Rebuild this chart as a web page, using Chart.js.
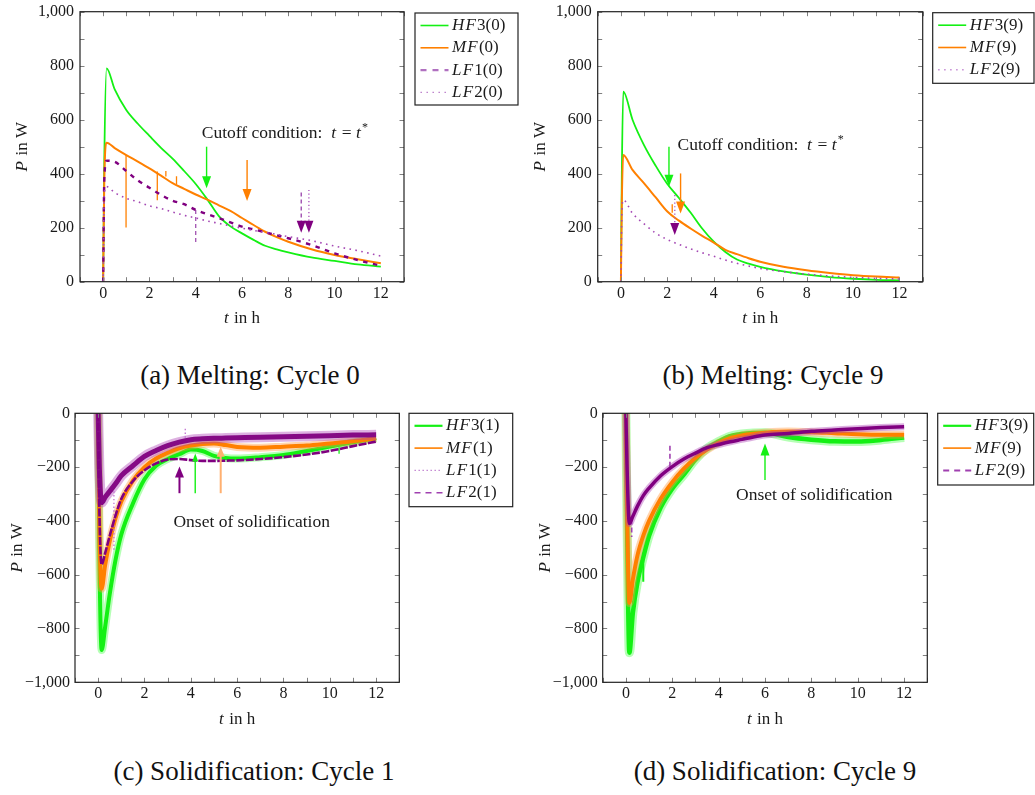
<!DOCTYPE html>
<html><head><meta charset="utf-8">
<script src="https://cdn.jsdelivr.net/npm/chart.js@4.4.1/dist/chart.umd.min.js"></script>
<style>
html,body{margin:0;padding:0;background:#fff;width:1035px;height:795px;overflow:hidden;position:relative}
canvas{position:absolute}
.cap{position:absolute;font-family:'Liberation Serif','Times New Roman',serif;font-size:27px;color:#111;white-space:nowrap;text-align:center;line-height:27px;width:400px}
</style></head><body>
<canvas id="cA" width="520" height="340" style="left:0px;top:0px"></canvas>
<canvas id="cB" width="515" height="340" style="left:520px;top:0px"></canvas>
<canvas id="cC" width="520" height="340" style="left:0px;top:400px"></canvas>
<canvas id="cD" width="515" height="340" style="left:520px;top:400px"></canvas>
<div class="cap" style="left:50px;top:362px">(a) Melting: Cycle 0</div>
<div class="cap" style="left:573px;top:362px">(b) Melting: Cycle 9</div>
<div class="cap" style="left:54px;top:758px">(c) Solidification: Cycle 1</div>
<div class="cap" style="left:575px;top:758px">(d) Solidification: Cycle 9</div>
<script>
const FONT = "'Liberation Serif', serif";
const GREEN = '#14f014', ORANGE = '#ff8000', PURPLE = '#800080', VIOLET = '#a448b4', LORANGE = '#ffb070';
const HALO_GREEN = 'rgba(90,255,90,0.45)', HALO_ORANGE = 'rgba(255,150,60,0.4)', HALO_PURPLE = 'rgba(170,60,180,0.4)';

// ---------- (a) Melting: Cycle 0 ----------
const tA    = [0, 0.05, 0.15, 0.5, 1, 1.5, 2, 2.5, 3, 3.5, 4, 4.5, 5, 5.5, 6, 6.5, 7, 7.5, 8, 9, 10, 11, 12];
const hf3_0 = [0, 450, 790, 712, 636, 585, 540, 496, 456, 410, 362, 305, 243, 205, 179, 155, 133, 120, 109, 90, 77, 64, 56];
const mf_0  = [0, 380, 515, 495, 469, 445, 420, 393, 365, 344, 323, 304, 283, 262, 236, 210, 185, 165, 148, 120, 99, 83, 68];
const lf1_0 = [0, 380, 448, 444, 410, 375, 348, 322, 300, 287, 266, 250, 236, 220, 204, 194, 183, 172, 161, 136, 105, 80, 59];
const lf2_0 = [0, 330, 352, 330, 309, 296, 281, 271, 258, 246, 236, 225, 216, 207, 198, 190, 183, 175, 167, 152, 132, 115, 95];
const spikesA_mf  = [[0.99, 469, 201], [2.34, 408, 302], [2.71, 390, 410], [3.17, 360, 391]];
const spikesA_lf1 = [[4.0, 266, 136]];
const arrowsA = [[4.47, 500, 346, 'green'], [6.22, 451, 299, 'orange'], [8.56, 330, 181, 'lf1'], [8.89, 340, 181, 'lf2']];

// ---------- (b) Melting: Cycle 9 ----------
const tB     = [0, 0.04, 0.1, 0.5, 1, 1.5, 2, 2.5, 3, 3.5, 4, 4.5, 5, 5.5, 6, 7, 8, 9, 10, 11, 12];
const hf3_9m = [0, 400, 704, 600, 505, 429, 362, 310, 256, 197, 148, 110, 82, 67, 55, 38, 26, 17, 11, 7, 5];
const mf_9m  = [0, 300, 469, 414, 364, 312, 260, 226, 197, 170, 145, 118, 102, 87, 74, 55, 42, 32, 24, 19, 16];
const lf2_9m = [0, 250, 303, 253, 214, 180, 156, 138, 122, 107, 94, 80, 68, 58, 49, 37, 28, 21, 16, 12, 10];
const spikesB_mf = [[2.21, 255, 287]];
const arrowsB = [[2.07, 500, 352, 'green'], [2.57, 401, 253, 'orange'], [2.32, 321, 173, 'lf2']];

// ---------- (c) Solidification: Cycle 1 ----------
const tC    = [0, 0.05, 0.15, 0.3, 0.5, 0.75, 1, 1.5, 2, 2.5, 3, 3.5, 4, 4.5, 5, 5.5, 6, 7, 8, 9, 10, 11, 12];
const hf3_1 = [0, -500, -880, -795, -672, -545, -450, -335, -245, -195, -170, -152, -135, -140, -158, -166, -168, -163, -155, -140, -124, -108, -92];
const mf_1  = [0, -400, -652, -565, -475, -390, -328, -250, -200, -168, -147, -130, -120, -114, -112, -118, -125, -128, -124, -120, -112, -104, -93];
const lf1_1 = [0, -200, -332, -312, -290, -262, -232, -195, -160, -138, -120, -107, -98, -95, -93, -92, -91, -89, -87, -85, -83, -81, -80];
const lf2_1 = [0, -350, -562, -520, -455, -380, -318, -252, -212, -186, -172, -170, -174, -177, -177, -176, -175, -170, -163, -153, -140, -122, -105];
const spikesC_lf1 = [[0.68, -290, -510], [3.76, -105, -55]];
const spikesC_hf3 = [[10.4, -126, -150]];
const arrowsC = [[3.51, -297, -198, 'purpleC'], [4.19, -297, -149, 'greenC'], [5.29, -297, -124, 'orangeC']];

// ---------- (d) Solidification: Cycle 9 ----------
const tD     = [0, 0.05, 0.15, 0.3, 0.5, 0.75, 1, 1.5, 2, 2.5, 3, 3.5, 4, 4.5, 5, 5.5, 6, 7, 8, 9, 10, 11, 12];
const hf3_9s = [0, -400, -890, -742, -628, -535, -455, -350, -280, -228, -172, -130, -105, -85, -77, -73, -72, -88, -98, -104, -105, -99, -90];
const mf_9s  = [0, -350, -705, -618, -528, -455, -400, -318, -256, -206, -166, -135, -110, -92, -82, -76, -72, -68, -70, -74, -78, -80, -80];
const lf2_9s = [0, -200, -410, -383, -345, -306, -278, -232, -198, -170, -148, -128, -116, -106, -97, -88, -81, -75, -67, -62, -57, -53, -50];
const spikesD_hf3 = [[0.75, -545, -626]];
const spikesD_lf2 = [[1.9, -199, -111], [0.25, -395, -460]];
const arrowsD = [[6.0, -248, -112, 'green']];

// tick labels
const xTickLabels = [0, 2, 4, 6, 8, 10, 12];
const yTickLabelsTop = [0, 200, 400, 600, 800, 1000];
const yTickLabelsBottom = [-1000, -800, -600, -400, -200, 0];

// texts
const cutoffText = [['Cutoff condition:  ', 0], ['t', 1], [' = ', 0], ['t', 1], ['*', 2]];
const onsetText = [['Onset of solidification', 0]];

const ARROW_STYLE = {
  green:   {c: GREEN, dash: [], w: 1.4, hw: 9, hl: 12},
  orange:  {c: ORANGE, dash: [], w: 1.4, hw: 9, hl: 12},
  lf1:     {c: PURPLE, dash: [4, 3], w: 1.4, hw: 9, hl: 12, sc: '#a050b0'},
  lf2:     {c: PURPLE, dash: [1.2, 2.5], w: 1.4, hw: 9, hl: 12, sc: '#b060c0'},
  purpleC: {c: PURPLE, dash: [], w: 2, hw: 9, hl: 11},
  greenC:  {c: GREEN, dash: [], w: 1.4, hw: 6, hl: 8},
  orangeC: {c: LORANGE, dash: [], w: 2, hw: 8, hl: 10}
};

function fmt(v) {
  const a = Math.abs(v);
  const s = a >= 1000 ? Math.floor(a / 1000) + ',' + String(a % 1000).padStart(3, '0') : String(a);
  return v < 0 ? '\u2212' + s : s;
}

function series(t, v, style) {
  return Object.assign({
    data: t.map((x, i) => ({x: x, y: v[i]})),
    pointRadius: 0, fill: false, cubicInterpolationMode: 'monotone',
    borderJoinStyle: 'round'
  }, style);
}
// noisy measurement: translucent wide band under a solid core
function band(t, v, core, halo, w, hw, order) {
  return [
    series(t, v, {borderColor: halo, borderWidth: hw, order: order + 0.5}),
    series(t, v, {borderColor: core, borderWidth: w, order: order})
  ];
}
function spikes(list, style) {
  return list.map(s => Object.assign({
    data: [{x: s[0], y: s[1]}, {x: s[0], y: s[2]}],
    pointRadius: 0, fill: false, tension: 0
  }, style));
}

const PANELS = {
  cA: {
    area: {l: 80, r: 404, t: 11.7, b: 281.7}, canvas: {l: 0, t: 0, w: 520, h: 340},
    ymin: 0, ymax: 1000, yLabels: yTickLabelsTop, ypad: 6,
    arrows: arrowsA, note: {x: 4.26, y: 551, parts: cutoffText},
    legend: {x: 415, y: 13, w: 103, h: 92, items: [
      {p: [['HF', 1], ['3(0)', 0]], c: GREEN, d: [], w: 1.6},
      {p: [['MF', 1], ['(0)', 0]], c: ORANGE, d: [], w: 1.6},
      {p: [['LF', 1], ['1(0)', 0]], c: '#b070c0', d: [6, 6], w: 2.4},
      {p: [['LF', 1], ['2(0)', 0]], c: '#b878c8', d: [1.4, 4.6], w: 1.4}]},
    datasets: [
      series(tA, hf3_0, {borderColor: GREEN, borderWidth: 1.8, order: 4}),
      series(tA, mf_0, {borderColor: ORANGE, borderWidth: 2.0, order: 3}),
      ...spikes(spikesA_mf, {borderColor: ORANGE, borderWidth: 1.3, order: 3}),
      series(tA, lf1_0, {borderColor: PURPLE, borderWidth: 2.4, borderDash: [4.5, 5.5], order: 2}),
      ...spikes(spikesA_lf1, {borderColor: '#a050b0', borderWidth: 1.3, borderDash: [4, 3], order: 2}),
      series(tA, lf2_0, {borderColor: VIOLET, borderWidth: 1.6, borderDash: [1.6, 4.4], order: 1})
    ]
  },
  cB: {
    area: {l: 597.7, r: 922.7, t: 11.7, b: 281.7}, canvas: {l: 520, t: 0, w: 515, h: 340},
    ymin: 0, ymax: 1000, yLabels: yTickLabelsTop, ypad: 6,
    arrows: arrowsB, note: {x: 2.44, y: 506, parts: cutoffText},
    legend: {x: 932.7, y: 12.7, w: 101.3, h: 70.6, items: [
      {p: [['HF', 1], ['3(9)', 0]], c: GREEN, d: [], w: 1.6},
      {p: [['MF', 1], ['(9)', 0]], c: ORANGE, d: [], w: 1.6},
      {p: [['LF', 1], ['2(9)', 0]], c: '#c080d0', d: [1.4, 4.6], w: 1.4}]},
    datasets: [
      series(tB, hf3_9m, {borderColor: GREEN, borderWidth: 1.8, order: 3}),
      series(tB, mf_9m, {borderColor: ORANGE, borderWidth: 2.0, order: 2}),
      ...spikes(spikesB_mf, {borderColor: ORANGE, borderWidth: 1.3, order: 2}),
      series(tB, lf2_9m, {borderColor: VIOLET, borderWidth: 1.6, borderDash: [1.6, 4.4], order: 1})
    ]
  },
  cC: {
    area: {l: 75, r: 399.3, t: 413.3, b: 682.3}, canvas: {l: 0, t: 400, w: 520, h: 340},
    ymin: -1000, ymax: 0, yLabels: yTickLabelsBottom, ypad: 5,
    arrows: arrowsC, note: {x: 3.25, y: -404, parts: onsetText},
    legend: {x: 409, y: 413.3, w: 103.7, h: 93.4, items: [
      {p: [['HF', 1], ['3(1)', 0]], c: GREEN, d: [], w: 2.2},
      {p: [['MF', 1], ['(1)', 0]], c: ORANGE, d: [], w: 1.6},
      {p: [['LF', 1], ['1(1)', 0]], c: '#c080d0', d: [1.4, 2.6], w: 1.4},
      {p: [['LF', 1], ['2(1)', 0]], c: '#a040b0', d: [6, 5], w: 1.6}]},
    datasets: [
      ...band(tC, hf3_1, GREEN, HALO_GREEN, 4, 8, 4),
      ...spikes(spikesC_hf3, {borderColor: GREEN, borderWidth: 1.3, order: 4}),
      ...band(tC, mf_1, ORANGE, HALO_ORANGE, 4, 8, 3),
      ...band(tC, lf1_1, '#850a85', HALO_PURPLE, 5, 10, 2),
      ...spikes(spikesC_lf1, {borderColor: '#c070d0', borderWidth: 1.3, borderDash: [1.4, 2.4], order: 2}),
      series(tC, lf2_1, {borderColor: PURPLE, borderWidth: 2.6, borderDash: [8, 1.5], order: 1})
    ]
  },
  cD: {
    area: {l: 602.7, r: 927.3, t: 413.3, b: 682.3}, canvas: {l: 520, t: 400, w: 515, h: 340},
    ymin: -1000, ymax: 0, yLabels: yTickLabelsBottom, ypad: 5,
    arrows: arrowsD, note: {x: 4.75, y: -304, parts: onsetText},
    legend: {x: 937.7, y: 413.3, w: 96, h: 71.7, items: [
      {p: [['HF', 1], ['3(9)', 0]], c: GREEN, d: [], w: 2.2},
      {p: [['MF', 1], ['(9)', 0]], c: ORANGE, d: [], w: 1.6},
      {p: [['LF', 1], ['2(9)', 0]], c: '#a040b0', d: [6, 5], w: 2}]},
    datasets: [
      ...band(tD, hf3_9s, GREEN, HALO_GREEN, 4.5, 9, 3),
      ...spikes(spikesD_hf3, {borderColor: GREEN, borderWidth: 2, order: 3}),
      ...band(tD, mf_9s, ORANGE, HALO_ORANGE, 4, 8, 2),
      ...band(tD, lf2_9s, PURPLE, HALO_PURPLE, 3.5, 7, 1),
      ...spikes(spikesD_lf2, {borderColor: '#a040b0', borderWidth: 1.6, borderDash: [5, 3], order: 1})
    ]
  }
};

function fontFor(style, size) {
  if (style === 1) return 'italic ' + size + 'px ' + FONT;
  if (style === 2) return Math.round(size * 0.7) + 'px ' + FONT;
  return size + 'px ' + FONT;
}
function drawRich(ctx, x, y, parts, size, align) {
  const widths = parts.map(p => { ctx.font = fontFor(p[1], size); return ctx.measureText(p[0]).width + (p[1] === 1 ? 1.2 * p[0].length : 0); });
  const total = widths.reduce((a, b) => a + b, 0);
  let cx = align === 'center' ? x - total / 2 : x;
  ctx.textBaseline = 'middle';
  ctx.textAlign = 'left';
  parts.forEach((p, i) => {
    ctx.font = fontFor(p[1], size);
    if (p[1] === 1) {
      let xx = cx;
      for (const ch of p[0]) { ctx.fillText(ch, xx, y); xx += ctx.measureText(ch).width + 1.2; }
    } else {
      ctx.fillText(p[0], cx, p[1] === 2 ? y - size * 0.3 : y);
    }
    cx += widths[i];
  });
}

function drawArrow(ctx, xs, ys, a) {
  const st = ARROW_STYLE[a[3]];
  const px = xs.getPixelForValue(a[0]);
  const p0 = ys.getPixelForValue(a[1]);
  const p1 = ys.getPixelForValue(a[2]);
  const dir = p1 > p0 ? 1 : -1;
  ctx.save();
  ctx.strokeStyle = st.sc || st.c;
  ctx.lineWidth = st.w;
  ctx.setLineDash(st.dash);
  ctx.beginPath();
  ctx.moveTo(px, p0);
  ctx.lineTo(px, p1 - dir * st.hl * 0.7);
  ctx.stroke();
  ctx.setLineDash([]);
  ctx.fillStyle = st.c;
  ctx.beginPath();
  ctx.moveTo(px - st.hw / 2, p1 - dir * st.hl);
  ctx.lineTo(px + st.hw / 2, p1 - dir * st.hl);
  ctx.lineTo(px, p1);
  ctx.closePath();
  ctx.fill();
  ctx.restore();
}

const decoPlugin = {
  id: 'deco',
  afterDatasetsDraw(chart) {
    const P = PANELS[chart.canvas.id];
    const ctx = chart.ctx, xs = chart.scales.x, ys = chart.scales.y;
    ctx.save();
    P.arrows.forEach(a => drawArrow(ctx, xs, ys, a));
    ctx.fillStyle = '#1a1a1a';
    drawRich(ctx, xs.getPixelForValue(P.note.x), ys.getPixelForValue(P.note.y), P.note.parts, 17.5, 'left');
    ctx.restore();
  },
  afterDraw(chart) {
    const P = PANELS[chart.canvas.id];
    const ctx = chart.ctx, xs = chart.scales.x, ys = chart.scales.y, a = chart.chartArea;
    ctx.save();
    ctx.strokeStyle = '#808080';
    ctx.lineWidth = 1;
    ctx.beginPath();
    for (let v = -1; v <= 13; v++) {
      const px = Math.round(xs.getPixelForValue(v)) + 0.5;
      ctx.moveTo(px, a.bottom); ctx.lineTo(px, a.bottom - 4.5);
      ctx.moveTo(px, a.top); ctx.lineTo(px, a.top + 4.5);
    }
    for (let v = P.ymin; v <= P.ymax; v += 100) {
      const py = Math.round(ys.getPixelForValue(v)) + 0.5;
      ctx.moveTo(a.left, py); ctx.lineTo(a.left + 4.5, py);
      ctx.moveTo(a.right, py); ctx.lineTo(a.right - 4.5, py);
    }
    ctx.stroke();
    ctx.strokeStyle = '#222';
    ctx.lineWidth = 1.2;
    ctx.strokeRect(a.left, a.top, a.right - a.left, a.bottom - a.top);
    ctx.fillStyle = '#1a1a1a';
    drawRich(ctx, (a.left + a.right) / 2, a.bottom + 37, [['t', 1], [' in h', 0]], 17, 'center');
    ctx.save();
    ctx.translate(a.left - 57, (a.top + a.bottom) / 2);
    ctx.rotate(-Math.PI / 2);
    drawRich(ctx, 0, 0, [['P', 1], [' in W', 0]], 17, 'center');
    ctx.restore();
    const L = P.legend, ox = P.canvas.l, oy = P.canvas.t;
    const lx = L.x - ox, ly = L.y - oy;
    ctx.fillStyle = '#fff';
    ctx.fillRect(lx, ly, L.w, L.h);
    ctx.strokeStyle = '#222';
    ctx.lineWidth = 1.2;
    ctx.strokeRect(lx, ly, L.w, L.h);
    L.items.forEach((it, i) => {
      const ry = ly + 12.5 + i * 22.3;
      ctx.strokeStyle = it.c;
      ctx.lineWidth = it.w;
      ctx.setLineDash(it.d);
      ctx.beginPath();
      ctx.moveTo(lx + 5.5, ry); ctx.lineTo(lx + 33.5, ry);
      ctx.stroke();
      ctx.setLineDash([]);
      ctx.fillStyle = '#1a1a1a';
      drawRich(ctx, lx + 37, ry, it.p, 17, 'left');
    });
    ctx.restore();
  }
};

function build(id) {
  const P = PANELS[id];
  const c = P.canvas, A = P.area;
  const yw = A.l - c.l;
  const xh = c.t + c.h - A.b;
  new Chart(document.getElementById(id), {
    type: 'line',
    data: {datasets: P.datasets},
    options: {
      responsive: false, animation: false, devicePixelRatio: 1,
      layout: {padding: {left: 0, right: c.l + c.w - A.r, top: A.t - c.t, bottom: 0}},
      plugins: {legend: {display: false}, tooltip: {enabled: false}},
      scales: {
        x: {
          type: 'linear', min: -1, max: 13,
          grid: {display: false, drawTicks: false}, border: {display: false},
          ticks: {stepSize: 1, autoSkip: false, maxRotation: 0, padding: 2, color: '#1a1a1a',
            font: {family: FONT, size: 16},
            callback: v => xTickLabels.includes(v) ? String(v) : ''},
          afterFit: s => { s.height = xh; s.paddingLeft = 0; s.paddingRight = 0; }
        },
        y: {
          type: 'linear', min: P.ymin, max: P.ymax,
          grid: {display: false, drawTicks: false}, border: {display: false},
          ticks: {stepSize: 100, autoSkip: false, padding: P.ypad, color: '#1a1a1a',
            font: {family: FONT, size: 16},
            callback: v => P.yLabels.includes(v) ? fmt(v) : ''},
          afterFit: s => { s.width = yw; s.paddingTop = 0; s.paddingBottom = 0; }
        }
      }
    },
    plugins: [decoPlugin]
  });
}
['cA', 'cB', 'cC', 'cD'].forEach(build);
</script>
</body></html>
